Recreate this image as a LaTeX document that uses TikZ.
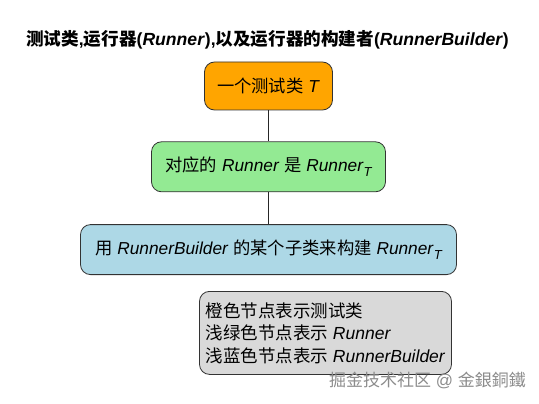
\documentclass[tikz,border=0pt]{standalone}
\usepackage{fontspec}
\setmainfont{Liberation Sans}
\newfontfamily\cjk{Noto Sans CJK SC}
\usepackage{xcolor}
\usetikzlibrary{positioning}

\definecolor{testorange}{HTML}{FFA500}
\definecolor{runnergreen}{HTML}{93EA93}
\definecolor{builderblue}{HTML}{ADD8E6}
\definecolor{legendgray}{HTML}{D9D9D9}

\newcommand{\zh}[1]{{\cjk #1}}
\newcommand{\runT}{\textit{Runner}\raisebox{-0.6ex}{\fontsize{13}{13}\selectfont\itshape T}}

\begin{document}
\begin{tikzpicture}[
    x=1pt, y=1pt,
    box/.style={draw=black!80, line width=0.8pt, rounded corners=10pt, minimum height=50pt, font=\fontsize{17.3}{20}\selectfont},
    link/.style={draw=black!85, line width=0.8pt}
]
\useasboundingbox (0,0) rectangle (539,-404);

\node[font=\bfseries\fontsize{17.6}{20}\selectfont] (title) at (267.5,-40)
  {\zh{测试类}\textbf{,}\zh{运行器}(\textit{Runner}),\zh{以及运行器的构建者}(\textit{RunnerBuilder})};

\node[box, fill=testorange, minimum width=128pt, minimum height=48pt] (test) at (268.5,-86) {\zh{一个测试类} \textit{T}};
\node[box, fill=runnergreen, minimum width=234pt, below=31pt of test] (runner) {\zh{对应的} \textit{Runner} \zh{是} \runT};
\node[box, fill=builderblue, minimum width=376pt, below=32pt of runner] (builder) {\zh{用} \textit{RunnerBuilder} \zh{的某个子类来构建} \runT};

\node[box, fill=legendgray, minimum width=252pt, minimum height=83pt, align=left, inner xsep=6pt,
      font=\fontsize{17.5}{22.5}\selectfont, below=16pt of builder, xshift=57pt] (legend)
  {\zh{橙色节点表示测试类}\\\zh{浅绿色节点表示} \textit{Runner}\\\zh{浅蓝色节点表示} \textit{RunnerBuilder}};

\node[anchor=east, text=black!45, font=\fontsize{17}{20}\selectfont, inner sep=0pt] (mark) at (526,-380)
  {\zh{掘金技术社区} @ \zh{金銀銅鐵}};

\draw[link] (test) -- (runner);
\draw[link] (runner) -- (builder);
\end{tikzpicture}
\end{document}
